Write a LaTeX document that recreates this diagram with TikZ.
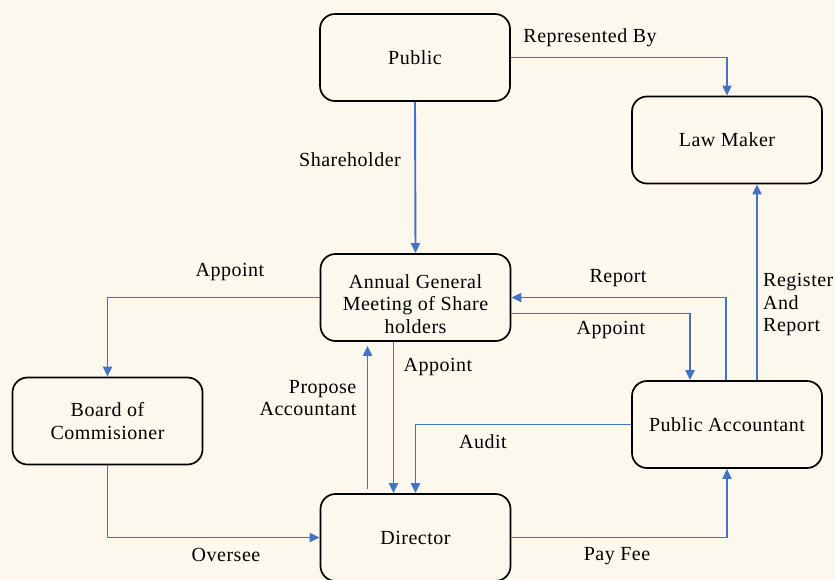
\documentclass[tikz,border=0pt]{standalone}
\usepackage{fontspec}
\setmainfont[LetterSpace=2.5]{Liberation Serif}
\usetikzlibrary{arrows.meta, positioning}
\definecolor{paper}{HTML}{FCF8EE}
\definecolor{flowblue}{HTML}{4472C4}

\begin{document}
\begin{tikzpicture}[x=1pt, y=-1pt]
	\tikzset{
		entity/.style={rectangle, rounded corners=15pt, draw=black, fill=paper, line width=1.7pt, minimum width=190pt, minimum height=87pt, align=center, font=\fontsize{20}{22.5}\selectfont},
		flow/.style={-{Triangle[length=10pt, width=9pt]}, draw=flowblue, line width=1.9pt},
		label/.style={font=\fontsize{20}{22.5}\selectfont, inner sep=0pt}
	}
	\fill[paper] (0,0) rectangle (835,579);
	\useasboundingbox (0,0) rectangle (835,579);

	\node[entity] (public) at (415,57.5) {Public};
	\node[entity] (lawmaker) at (727,140) {Law Maker};
	\node[entity] (agm) at (415.5,297.5) {\rule{0pt}{27pt}Annual General\\Meeting of Share\\holders};
	\node[entity] (board) at (107.5,421) {Board of\\Commisioner};
	\node[entity] (accountant) at (727,424.5) {Public Accountant};
	\node[entity] (director) at (415.5,537.5) {Director};

	\node[label] (represented) at (590,38) {Represented By};
	\node[label] (shareholder) at (350,160) {Shareholder};
	\node[label] (appointboard) at (230,272) {Appoint};
	\node[label] (oversee) at (226,555) {Oversee};
	\node[label] (appointdir) at (438,367) {Appoint};
	\node[label, align=right] (propose) at (308,398) {Propose\\Accountant};
	\node[label] (audit) at (483,442) {Audit};
	\node[label] (payfee) at (617,556) {Pay Fee};
	\node[label] (report) at (618,278) {Report};
	\node[label] (appointpa) at (611,330) {Appoint};
	\node[label, align=left, anchor=west] (register) at (763,305) {Register\\And\\Report};

	\draw[flow] (public.east) -| (lawmaker.north);
	\draw[flow] (public.south) -- (agm.north);
	\draw[flow] (agm.west) -| (board.north);
	\draw[flow] (board.south) |- (director.west);
	\draw[flow] ([xshift=-22pt]agm.south) -- ([xshift=-22pt]director.north);
	\draw[flow, shorten <=4pt, shorten >=4pt] ([xshift=-48pt]director.north) -- ([xshift=-48pt]agm.south);
	\draw[flow] (accountant.west) -| (director.north);
	\draw[flow] (director.east) -| (accountant.south);
	\draw[flow] ([xshift=-1pt]accountant.north) |- (agm.east);
	\draw[flow] ([yshift=-16pt]agm.east) -| ([xshift=-37pt]accountant.north);
	\draw[flow] ([xshift=30pt]accountant.north) -- ([xshift=30pt]lawmaker.south);
\end{tikzpicture}
\end{document}
